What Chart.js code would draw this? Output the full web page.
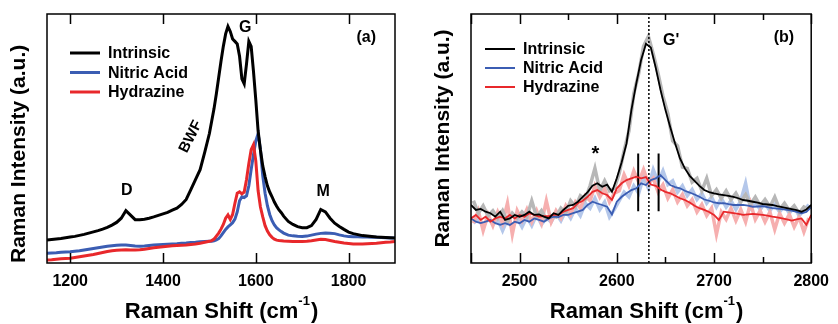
<!DOCTYPE html>
<html>
<head>
<meta charset="utf-8">
<script src="https://cdn.jsdelivr.net/npm/chart.js@4/dist/chart.umd.min.js"></script>
<style>
  html, body { margin: 0; padding: 0; background: #fff; }
  #wrap { display: flex; width: 838px; height: 324px; }
  canvas { display: block; }
</style>
</head>
<body>
<div id="wrap">
  <canvas id="chartA" width="420" height="324"></canvas>
  <canvas id="chartB" width="418" height="324"></canvas>
</div>
<script>
// ---- panel (a): D / G / M region ----
const shiftA = [
  1150, 1160, 1170, 1180, 1190, 1200, 1210, 1220, 1230, 1240,
  1250, 1260, 1270, 1280, 1290, 1300, 1310, 1320, 1330, 1340,
  1350, 1360, 1370, 1380, 1390, 1400, 1410, 1420, 1430, 1440,
  1450, 1460, 1470, 1480, 1490, 1500,
  1505, 1510, 1515, 1520, 1525, 1530, 1535, 1540, 1545, 1550,
  1555, 1560, 1565, 1570, 1575, 1580, 1585, 1590, 1595, 1600,
  1605, 1610, 1615, 1620, 1625, 1630, 1635, 1640, 1645, 1650,
  1655, 1660,
  1670, 1680, 1690, 1700, 1710, 1720, 1730, 1740, 1750, 1760,
  1770, 1780, 1790, 1800, 1810, 1820, 1830, 1840, 1850, 1860,
  1870, 1880, 1890, 1900
];
const intrinsicA = [
  9.2, 9.4, 9.6, 9.8, 10.1, 10.4, 10.7, 11.1, 11.5, 12.0,
  12.5, 13.0, 13.6, 14.3, 15.2, 16.3, 18.0, 21.0, 19.2, 17.4,
  17.4, 17.6, 18.0, 18.5, 19.1, 19.7, 20.3, 21.2, 22.0, 23.5,
  25.5, 29.5, 33.5, 37.5, 44.5, 52.0,
  57.0, 62.0, 68.0, 74.5, 81.0, 87.0, 92.0, 95.0, 93.0, 90.0,
  89.0, 88.0, 83.0, 74.0, 72.0, 80.0, 89.0, 87.0, 77.0, 65.5,
  53.0, 45.4, 39.0, 34.7, 31.0, 28.5, 26.6, 24.5, 22.8, 21.3,
  20.2, 18.8,
  16.7, 15.5, 14.6, 14.2, 14.2, 15.0, 17.5, 21.5, 20.5, 18.0,
  16.0, 14.7, 13.5, 12.4, 11.8, 11.4, 11.0, 10.8, 10.6, 10.4,
  10.3, 10.2, 10.1, 10.0
];
const nitricA = [
  3.9, 4.0, 4.1, 4.3, 4.4, 4.5, 4.7, 4.9, 5.2, 5.5,
  5.8, 6.1, 6.4, 6.7, 6.9, 7.1, 7.2, 7.2, 7.0, 6.8,
  6.7, 6.8, 7.0, 7.2, 7.3, 7.4, 7.5, 7.6, 7.7, 7.9,
  8.0, 8.2, 8.3, 8.5, 8.6, 8.7,
  8.7, 8.9, 9.3, 9.8, 10.9, 12.2, 13.5, 14.5, 15.3, 16.2,
  17.6, 20.5, 25.0, 26.6, 26.3, 27.0, 31.0, 37.5, 43.5, 49.0,
  52.0, 45.4, 35.0, 28.0, 23.0, 19.5, 17.0, 15.3, 14.1, 13.3,
  12.6, 12.0,
  11.2, 10.9, 10.7, 10.6, 10.8, 11.2, 11.6, 11.9, 12.0, 11.9,
  11.8, 11.3, 10.9, 10.6, 10.5, 10.5, 10.4, 10.4, 10.3, 10.3,
  10.2, 10.1, 10.0, 10.0
];
const hydrazineA = [
  1.2, 1.3, 1.5, 1.7, 1.8, 1.9, 2.2, 2.5, 2.8, 3.1,
  3.4, 3.8, 4.2, 4.6, 4.9, 5.1, 5.2, 5.3, 5.2, 5.2,
  5.3, 5.5, 5.8, 6.1, 6.3, 6.5, 6.7, 6.9, 7.0, 7.1,
  7.2, 7.4, 7.6, 7.9, 8.3, 8.7,
  9.0, 9.6, 10.8, 12.0, 13.6, 15.5, 18.0, 19.3, 17.5, 19.5,
  24.0, 28.0, 28.6, 27.8, 28.5, 33.5, 40.0, 45.5, 47.5, 41.0,
  29.0, 22.5, 18.5, 15.0, 12.8, 11.3, 10.3, 9.6, 9.2, 9.0,
  8.9, 8.8,
  8.7, 8.6, 8.6, 8.6, 8.7, 8.9, 9.2, 9.5, 9.4, 9.0,
  8.6, 8.3, 8.0, 7.8, 7.6, 7.6, 7.6, 7.7, 7.8, 7.9,
  8.1, 8.3, 8.4, 8.6
];
const ticksA = [1200, 1400, 1600, 1800];

// ---- panel (b): G' region, smoothed traces ----
const shiftB = [
  2450, 2455, 2460, 2465, 2470, 2475, 2480, 2485, 2490, 2495,
  2500, 2505, 2510, 2515, 2520, 2525, 2530, 2535, 2540, 2545,
  2550, 2555, 2560, 2565, 2570, 2575, 2580, 2585, 2590, 2595,
  2600, 2605, 2610, 2615, 2620, 2625, 2630, 2635, 2640, 2645,
  2650, 2655, 2660, 2665, 2670, 2675, 2680, 2685, 2690, 2695,
  2700, 2705, 2710, 2715, 2720, 2725, 2730, 2735, 2740, 2745,
  2750, 2755, 2760, 2765, 2770, 2775, 2780, 2785, 2790, 2795,
  2800
];
const intrinsicB = [
  23.3, 21.3, 21.7, 20.6, 20.0, 18.6, 20.6, 17.3, 17.9, 19.3,
  18.6, 19.3, 20.6, 19.3, 19.5, 18.6, 17.9, 20.0, 19.3, 21.3,
  23.0, 23.3, 24.6, 26.6, 28.5, 31.0, 32.0, 30.6, 31.5, 28.6,
  34.0, 40.5, 48.0, 61.4, 72.0, 81.5, 88.0, 86.5, 78.5, 69.5,
  61.5, 54.5, 48.0, 42.0, 38.0, 35.0, 33.0, 31.0, 29.3, 28.5,
  28.0, 27.6, 27.3, 27.0, 26.6, 26.0, 25.3, 25.0, 24.6, 24.2,
  23.7, 23.5, 23.3, 22.8, 22.4, 22.0, 21.6, 21.2, 20.6, 21.5,
  23.3
];
const nitricB = [
  17.9, 16.6, 16.0, 16.6, 17.3, 16.0, 15.3, 16.0, 15.3, 16.6,
  16.0, 17.3, 16.6, 17.9, 17.3, 16.6, 17.9, 18.6, 18.4, 19.3,
  19.3, 20.0, 20.6, 21.3, 23.3, 24.6, 23.9, 23.3, 22.6, 19.5,
  24.6, 26.6, 28.0, 29.3, 30.0, 32.0, 31.3, 33.3, 34.0, 35.3,
  33.3, 31.3, 30.5, 30.0, 29.0, 28.3, 27.5, 26.6, 25.5, 25.0,
  24.3, 24.0, 24.0, 23.6, 23.3, 23.3, 23.3, 23.0, 22.6, 22.7,
  22.8, 22.4, 22.0, 21.8, 21.6, 21.3, 21.0, 20.5, 20.0, 20.5,
  22.4
];
const hydrazineB = [
  17.9, 19.3, 17.3, 18.6, 16.6, 17.9, 18.6, 17.9, 19.3, 17.9,
  19.3, 18.6, 20.0, 19.3, 18.6, 18.8, 18.8, 19.3, 19.3, 20.6,
  21.3, 22.0, 24.0, 25.0, 26.6, 28.6, 29.3, 28.0, 27.3, 25.3,
  30.0, 32.0, 33.3, 34.0, 34.7, 34.0, 34.5, 31.5, 31.0, 29.5,
  28.6, 28.0, 27.0, 26.0, 25.3, 24.3, 23.0, 22.0, 21.3, 20.5,
  19.3, 17.3, 20.6, 20.3, 20.0, 19.7, 19.3, 19.5, 19.7, 19.5,
  19.3, 19.0, 18.6, 18.3, 17.9, 17.5, 17.0, 17.5, 17.9, 15.3,
  19.3
];

// ---- panel (b): raw (unsmoothed) traces ----
const rawShiftB = [
  2452.5, 2457.5, 2462.5, 2467.5, 2472.5, 2477.5, 2482.5, 2487.5, 2492.5, 2497.5,
  2502.5, 2507.5, 2512.5, 2517.5, 2522.5, 2527.5, 2532.5, 2537.5, 2542.5, 2547.5,
  2552.5, 2557.5, 2562.5, 2567.5, 2572.5, 2577.5, 2582.5, 2587.5, 2592.5, 2597.5,
  2602.5, 2607.5, 2612.5, 2617.5, 2622.5, 2627.5, 2632.5, 2637.5, 2642.5, 2647.5,
  2652.5, 2657.5, 2662.5, 2667.5, 2672.5, 2677.5, 2682.5, 2687.5, 2692.5, 2697.5,
  2702.5, 2707.5, 2712.5, 2717.5, 2722.5, 2727.5, 2732.5, 2737.5, 2742.5, 2747.5,
  2752.5, 2757.5, 2762.5, 2767.5, 2772.5, 2777.5, 2782.5, 2787.5, 2792.5, 2797.5
];
const rawIntrinsicB = [
  25, 20, 23, 19, 21, 18, 21, 16.5, 20, 18,
  20.5, 18.5, 25, 18.5, 21, 17.5, 19, 18.5, 22, 20,
  25, 22.5, 27, 25.5, 31, 38, 29, 33, 29, 30,
  36, 45, 53, 68, 76, 87, 91, 84, 76, 67,
  60, 49, 47, 38.5, 38, 32.5, 34, 29, 34, 27,
  29.5, 26, 29, 25.5, 28, 24.5, 27.5, 23.5, 26.5, 23,
  25.5, 22.5, 26.5, 21.5, 24, 21, 23, 20, 22.5, 21.5
];
const rawNitricB = [
  16, 18, 14.5, 18, 15.5, 17.5, 13, 17.5, 14, 18,
  14.5, 18.5, 15, 19.5, 15.5, 18, 16.5, 20, 17, 21,
  18, 22, 19, 24, 22, 26, 21.5, 24.5, 18.5, 21.5,
  25, 28.5, 26.5, 31, 28, 34.5, 30, 37.5, 32.5, 37,
  31.5, 33, 28.5, 31, 27, 29.5, 25.5, 28, 24, 26.5,
  22.5, 26, 22.5, 25, 21.5, 25, 32, 22, 24.5, 21.5,
  24, 21, 23.5, 20.5, 23, 20, 22.5, 19, 21, 23.5
];
const rawHydrazineB = [
  16, 21, 13, 19.5, 15, 20.5, 16, 24, 11.5, 21,
  17, 21.5, 16.5, 21, 16, 25, 16.5, 21, 18, 23,
  19.5, 24.5, 22, 27, 25, 31, 26.5, 30, 24.5, 28,
  29, 35.5, 31, 37, 32.5, 37.5, 32, 34, 28.5, 31.5,
  26, 29.5, 24.5, 27.5, 23, 25.5, 20.5, 23.5, 19, 22,
  11.5, 20.5, 17.5, 22, 17, 21.5, 16.5, 24, 17.5, 21,
  16.5, 20.5, 13.5, 20, 16, 19.5, 14.5, 18.5, 12.5, 18
];
const ticksB = [2500, 2600, 2700, 2800];
const minorTicksB = [2550, 2650, 2750];
const gPrimeShift = 2633;          // dotted line
const markerShifts = [2622, 2643]; // short vertical bars
const markerRange = [20.8, 44];

const seriesNames = ['Intrinsic', 'Nitric Acid', 'Hydrazine'];

const FONT = '"Liberation Sans", Arial, sans-serif';
const BLACK = '#000000', BLUE = '#3b5db3', RED = '#e8282b';
const GREY_RAW = '#b7b7b7', BLUE_RAW = '#b4c7ea', RED_RAW = '#f6afaf';

Chart.defaults.font.family = FONT;
Chart.defaults.color = '#000';
Chart.defaults.animation = false;

function pts(xs, ys) {
  return xs.map((x, i) => ({ x: x, y: ys[i] }));
}

function line(data, color, width, extra) {
  return Object.assign({
    data: data,
    borderColor: color,
    borderWidth: width,
    pointRadius: 0,
    fill: false,
    tension: 0
  }, extra || {});
}

// frame, inward ticks, legend, annotations and x title
function makeDecor(cfg) {
  return {
    id: 'decor',
    afterDatasetsDraw(chart) {
      const ctx = chart.ctx;
      const a = chart.chartArea;
      const sx = chart.scales.x, sy = chart.scales.y;
      ctx.save();
      ctx.strokeStyle = '#000';
      ctx.lineWidth = 1.5;
      ctx.strokeRect(a.left, a.top, a.right - a.left, a.bottom - a.top);

      cfg.ticks.forEach(t => {
        const px = Math.round(sx.getPixelForValue(t.value)) + 0.5;
        ctx.beginPath();
        ctx.moveTo(px, a.top);
        ctx.lineTo(px, a.top + t.len);
        ctx.moveTo(px, a.bottom);
        ctx.lineTo(px, a.bottom - t.len);
        ctx.stroke();
      });

      ctx.font = 'bold 16px ' + FONT;
      ctx.textAlign = 'left';
      ctx.textBaseline = 'middle';
      cfg.legend.forEach((item, i) => {
        const y = a.top + cfg.legendTop + i * cfg.legendGap;
        const x0 = a.left + cfg.legendLeft;
        ctx.strokeStyle = item.color;
        ctx.lineWidth = cfg.legendWidth;
        ctx.beginPath();
        ctx.moveTo(x0, y);
        ctx.lineTo(x0 + 30, y);
        ctx.stroke();
        ctx.fillStyle = '#000';
        ctx.fillText(item.label, x0 + 38, y + 1);
      });

      cfg.notes.forEach(n => {
        ctx.save();
        ctx.translate(sx.getPixelForValue(n.x), sy.getPixelForValue(n.y));
        ctx.rotate((n.rot || 0) * Math.PI / 180);
        ctx.font = 'bold ' + (n.size || 16) + 'px ' + FONT;
        ctx.textAlign = 'center';
        ctx.textBaseline = 'middle';
        ctx.fillStyle = '#000';
        ctx.fillText(n.text, 0, 0);
        ctx.restore();
      });
      ctx.restore();
    },
    afterDraw(chart) {
      const ctx = chart.ctx;
      const a = chart.chartArea;
      const main = 'Raman Shift (cm', sup = '-1', close = ')';
      ctx.save();
      ctx.fillStyle = '#000';
      ctx.textAlign = 'left';
      ctx.textBaseline = 'alphabetic';
      ctx.font = 'bold 22px ' + FONT;
      const w1 = ctx.measureText(main).width;
      const w3 = ctx.measureText(close).width;
      ctx.font = 'bold 13px ' + FONT;
      const w2 = ctx.measureText(sup).width;
      let x = (a.left + a.right) / 2 + cfg.titleShift - (w1 + w2 + w3) / 2;
      const base = 318;
      ctx.font = 'bold 22px ' + FONT;
      ctx.fillText(main, x, base);
      ctx.font = 'bold 13px ' + FONT;
      ctx.fillText(sup, x + w1, base - 13);
      ctx.font = 'bold 22px ' + FONT;
      ctx.fillText(close, x + w1 + w2 + 1, base);
      ctx.restore();
    }
  };
}

function axes(xmin, xmax, xticks, yWidth, titleAlign, titlePad) {
  return {
    x: {
      type: 'linear',
      min: xmin,
      max: xmax,
      grid: { display: false, drawTicks: false },
      border: { display: false },
      ticks: {
        color: '#000',
        font: { size: 16, weight: 'bold' },
        padding: 9,
        maxRotation: 0,
        callback: v => String(v)
      },
      afterBuildTicks(s) { s.ticks = xticks.map(v => ({ value: v })); },
      afterFit(s) { s.height = 61; }
    },
    y: {
      min: 0,
      max: 100,
      grid: { display: false, drawTicks: false },
      border: { display: false },
      ticks: { display: false },
      title: {
        display: true,
        text: 'Raman Intensity (a.u.)',
        color: '#000',
        font: { size: 21, weight: 'bold' },
        align: titleAlign,
        padding: { top: titlePad, bottom: 0 }
      },
      afterFit(s) { s.width = yWidth; }
    }
  };
}

const baseOptions = {
  responsive: false,
  animation: false,
  events: [],
  plugins: { legend: { display: false }, tooltip: { enabled: false } }
};

// panel (a)
new Chart(document.getElementById('chartA'), {
  type: 'line',
  data: {
    datasets: [
      line(pts(shiftA, intrinsicA), BLACK, 3),
      line(pts(shiftA, hydrazineA), RED, 3),
      line(pts(shiftA, nitricA), BLUE, 3)
    ]
  },
  options: Object.assign({}, baseOptions, {
    layout: { padding: { top: 14, right: 25, left: 0, bottom: 0 } },
    scales: axes(1150, 1900, ticksA, 47, 'start', 7)
  }),
  plugins: [makeDecor({
    ticks: ticksA.map(v => ({ value: v, len: 10 })),
    legend: [
      { label: seriesNames[0], color: BLACK },
      { label: seriesNames[1], color: BLUE },
      { label: seriesNames[2], color: RED }
    ],
    legendTop: 39, legendGap: 19.5, legendLeft: 23, legendWidth: 3,
    titleShift: 0,
    notes: [
      { text: 'D', x: 1322, y: 29 },
      { text: 'G', x: 1577, y: 94.4 },
      { text: 'M', x: 1745, y: 28.5 },
      { text: 'BWF', x: 1460, y: 50.7, rot: -63, size: 15 },
      { text: '(a)', x: 1838, y: 90.4 }
    ]
  })]
});

// panel (b)
new Chart(document.getElementById('chartB'), {
  type: 'line',
  data: {
    datasets: [
      line([{ x: gPrimeShift, y: 0 }, { x: gPrimeShift, y: 100 }], BLACK, 1.5, { borderDash: [2, 2] }),
      line(pts(shiftB, intrinsicB), BLACK, 1.8),
      line(pts(shiftB, hydrazineB), RED, 1.8),
      line(pts(shiftB, nitricB), BLUE, 1.8),
      line([{ x: markerShifts[0], y: markerRange[0] }, { x: markerShifts[0], y: markerRange[1] }], BLACK, 2),
      line([{ x: markerShifts[1], y: markerRange[0] }, { x: markerShifts[1], y: markerRange[1] }], BLACK, 2),
      line(pts(rawShiftB, rawIntrinsicB), GREY_RAW, 3.5),
      line(pts(rawShiftB, rawHydrazineB), RED_RAW, 3.5),
      line(pts(rawShiftB, rawNitricB), BLUE_RAW, 3.5)
    ]
  },
  options: Object.assign({}, baseOptions, {
    layout: { padding: { top: 14, right: 20, left: 0, bottom: 0 } },
    scales: axes(2450, 2800, ticksB, 51, 'center', 11)
  }),
  plugins: [makeDecor({
    ticks: ticksB.map(v => ({ value: v, len: 10 }))
      .concat(minorTicksB.map(v => ({ value: v, len: 6 })))
      .concat([{ value: 2450, len: 10 }]),
    legend: [
      { label: seriesNames[0], color: BLACK },
      { label: seriesNames[1], color: BLUE },
      { label: seriesNames[2], color: RED }
    ],
    legendTop: 35, legendGap: 19, legendLeft: 14, legendWidth: 2,
    titleShift: 5,
    notes: [
      { text: "G'", x: 2656, y: 89.2 },
      { text: '(b)', x: 2772, y: 90.4 },
      { text: '*', x: 2578, y: 43.5, size: 20 }
    ]
  })]
});
</script>
</body>
</html>
